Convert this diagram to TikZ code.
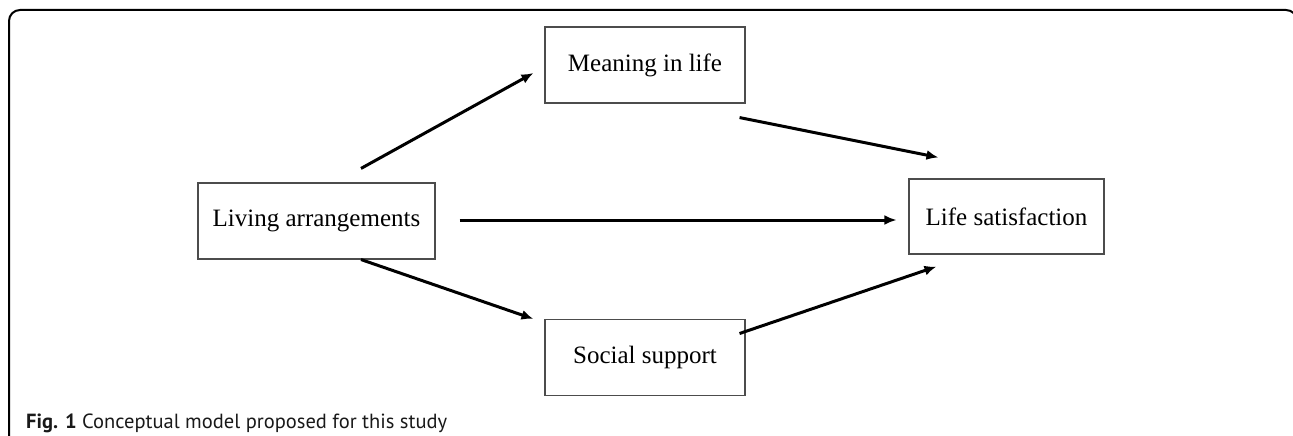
\documentclass[tikz,border=0pt]{standalone}
\usepackage{fontspec}
\setmainfont{Liberation Serif}
\newfontfamily\capfont{PT Sans}
\usetikzlibrary{arrows.meta, positioning, calc}

\begin{document}
\begin{tikzpicture}[
    x=1pt, y=-1pt,
    block/.style={rectangle, draw=black!70, line width=1.1pt, text centered, minimum height=76pt, font=\fontsize{25}{30}\selectfont},
    line/.style={draw, -{Latex[length=12pt,width=10pt]}, line width=3pt}
]
\useasboundingbox (0,0) rectangle (1293,436);

% outer frame
\draw[line width=2pt, rounded corners=11pt] (9,460) -- (9,10) -- (1297,10) -- (1297,460);

\node [block, minimum width=237pt] (living) at (316.5,221) {Living arrangements};
\node [block, minimum width=200pt] (meaning) at (645,65) {Meaning in life};
\node [block, minimum width=200pt] (social) at (645,357.5) {Social support};
\node [block, minimum width=195pt, minimum height=75pt] (satisf) at (1006.5,216.5) {Life satisfaction};

\path [line] ($(living.north)+(44.5,-14)$) -- ($(meaning.west)+(-11,8)$);
\path [line] ($(meaning.south east)+(-6,14)$) -- ($(satisf.north west)+(30,-21)$);
\path [line] ($(living.east)+(24,-1)$) -- ($(living.east -| satisf.west)+(-12,-1)$);
\path [line] ($(living.south)+(44.5,0)$) -- ($(social.north west)+(-11,0)$);
\path [line] ($(social.east)+(-6,-24)$) -- ($(satisf.south west)+(28,12)$);

\node [anchor=base west, inner sep=0pt, font=\capfont\fontsize{20.5}{24}\selectfont, text=black!90] (caption) at (26,428) {\textbf{Fig. 1} Conceptual model proposed for this study};
\end{tikzpicture}
\end{document}
